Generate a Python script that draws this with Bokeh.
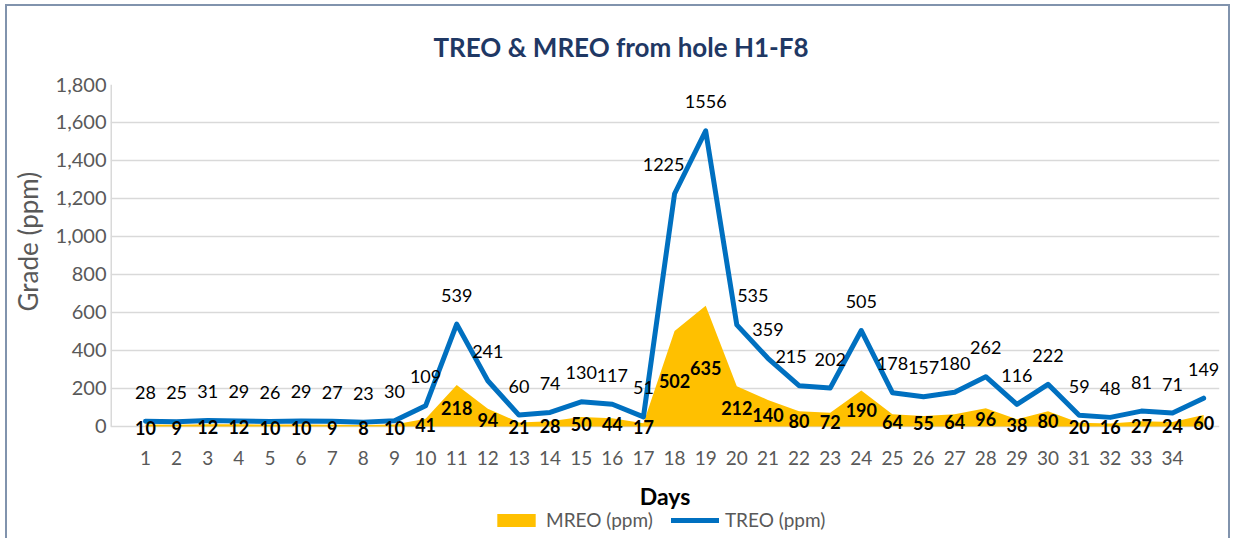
from bokeh.plotting import figure
from bokeh.models import (ColumnDataSource, FixedTicker, NumeralTickFormatter,
                          Legend, LegendItem, Range1d)
from bokeh.embed import file_html
from bokeh.resources import INLINE
from bokeh.core.properties import value

# ---- data ----
days = list(range(1, 36))
tick_days = list(range(1, 35))
treo = [28, 25, 31, 29, 26, 29, 27, 23, 30, 109, 539, 241, 60, 74, 130, 117, 51,
        1225, 1556, 535, 359, 215, 202, 505, 178, 157, 180, 262, 116, 222, 59, 48, 81, 71, 149]
mreo = [10, 9, 12, 12, 10, 10, 9, 8, 10, 41, 218, 94, 21, 28, 50, 44, 17,
        502, 635, 212, 140, 80, 72, 190, 64, 55, 64, 96, 38, 80, 20, 16, 27, 24, 60]
y_ticks = [0, 200, 400, 600, 800, 1000, 1200, 1400, 1600, 1800]

# label horizontal nudges (style only)
treo_dx = [0] * 35
treo_dx[17] = -11
treo_dx[19] = 16
treo_dx[21] = -8

FONT = "Lato"
GRAY = "#595959"
GRID = "#D9D9D9"

src = ColumnDataSource(dict(
    x=days, treo=treo, mreo=mreo,
    mreo_mid=[v / 2 for v in mreo],
    treo_lbl=[str(v) for v in treo],
    mreo_lbl=[str(v) for v in mreo],
    treo_dx=treo_dx,
))

X0, X1 = -0.1247, 35.51
# the frame reaches down to the legend; the category axis sits at y = 0
p = figure(frame_width=1109, frame_height=454, output_backend="svg", toolbar_location=None,
           x_range=Range1d(X0, X1), y_range=Range1d(-589.5, 1800),
           min_border_left=103, min_border_right=9, min_border_top=78, min_border_bottom=0,
           outline_line_color=None)
p.styles = {"border": "2px solid #8193AD", "border-bottom": "0px",
            "margin": "4px 0px 0px 5px"}

# title
p.title.text = "TREO & MREO from hole H1-F8"
p.title.align = "left"
p.title.offset = 323
p.title.text_font = FONT
p.title.text_font_size = "26px"
p.title.text_font_style = "bold"
p.title.text_color = "#1F3864"
p.title.standoff = 44

# gridlines (the 0 gridline doubles as the category axis line)
p.xgrid.grid_line_color = None
p.ygrid.ticker = FixedTicker(ticks=y_ticks)
p.ygrid.grid_line_color = GRID
p.ygrid.grid_line_width = 1.5

# value axis line from 0 to the top
p.segment(x0=[X0], y0=[y_ticks[0]], x1=[X0], y1=[y_ticks[-1]], line_color=GRID, line_width=3)

# area + line
area = p.varea(x="x", y1=0, y2="mreo", source=src, fill_color="#FFC000")
line = p.line(x="x", y="treo", source=src, line_color="#0070C0", line_width=5,
              line_join="round", line_cap="round")

# data labels
p.text(x="x", y="treo", text="treo_lbl", source=src, x_offset="treo_dx", y_offset=-29,
       text_align="center", text_baseline="middle", text_color="#000000",
       text_font=value(FONT), text_font_size="18px")
p.text(x="x", y="mreo_mid", text="mreo_lbl", source=src, y_offset=2,
       text_align="center", text_baseline="middle", text_color="#000000",
       text_font=value(FONT), text_font_size="18px", text_font_style="bold")

# axes
p.xaxis.fixed_location = 0
p.xaxis.ticker = FixedTicker(ticks=tick_days)
p.xaxis.major_tick_line_color = None
p.xaxis.minor_tick_line_color = None
p.xaxis.major_tick_out = 0
p.xaxis.major_tick_in = 0
p.xaxis.axis_line_color = None
p.xaxis.major_label_text_font = FONT
p.xaxis.major_label_text_font_size = "19px"
p.xaxis.major_label_text_color = GRAY
p.xaxis.major_label_standoff = 25
p.xaxis.axis_label = "Days"
p.xaxis.axis_label_text_font = FONT
p.xaxis.axis_label_text_font_size = "23px"
p.xaxis.axis_label_text_font_style = "bold"
p.xaxis.axis_label_text_color = "#000000"
p.xaxis.axis_label_standoff = 13

p.yaxis.ticker = FixedTicker(ticks=y_ticks)
p.yaxis.formatter = NumeralTickFormatter(format="0,0")
p.yaxis.major_tick_line_color = None
p.yaxis.minor_tick_line_color = None
p.yaxis.major_tick_out = 0
p.yaxis.axis_line_color = None
p.yaxis.major_label_text_font = FONT
p.yaxis.major_label_text_font_size = "20px"
p.yaxis.major_label_text_color = GRAY
p.yaxis.major_label_standoff = 4
# leading no-break spaces lift the title to the middle of the value axis (0-1,800)
p.yaxis.axis_label = "\u00a0" * 21 + "Grade (ppm)"
p.yaxis.axis_label_text_font = FONT
p.yaxis.axis_label_text_font_size = "26px"
p.yaxis.axis_label_text_font_style = "normal"
p.yaxis.axis_label_text_color = GRAY
p.yaxis.axis_label_standoff = 9

# legend (inside the lower part of the frame)
legend = Legend(items=[LegendItem(label="MREO (ppm)", renderers=[area]),
                       LegendItem(label="TREO (ppm)", renderers=[line])],
                orientation="horizontal", location=(382, 7),
                glyph_width=48, glyph_height=16, label_standoff=6, spacing=18,
                padding=0, margin=0, border_line_alpha=0, background_fill_alpha=0,
                label_text_font=FONT, label_text_font_size="19px", label_text_color=GRAY)
p.add_layout(legend, "center")

open("out.html", "w").write(file_html(p, INLINE))
